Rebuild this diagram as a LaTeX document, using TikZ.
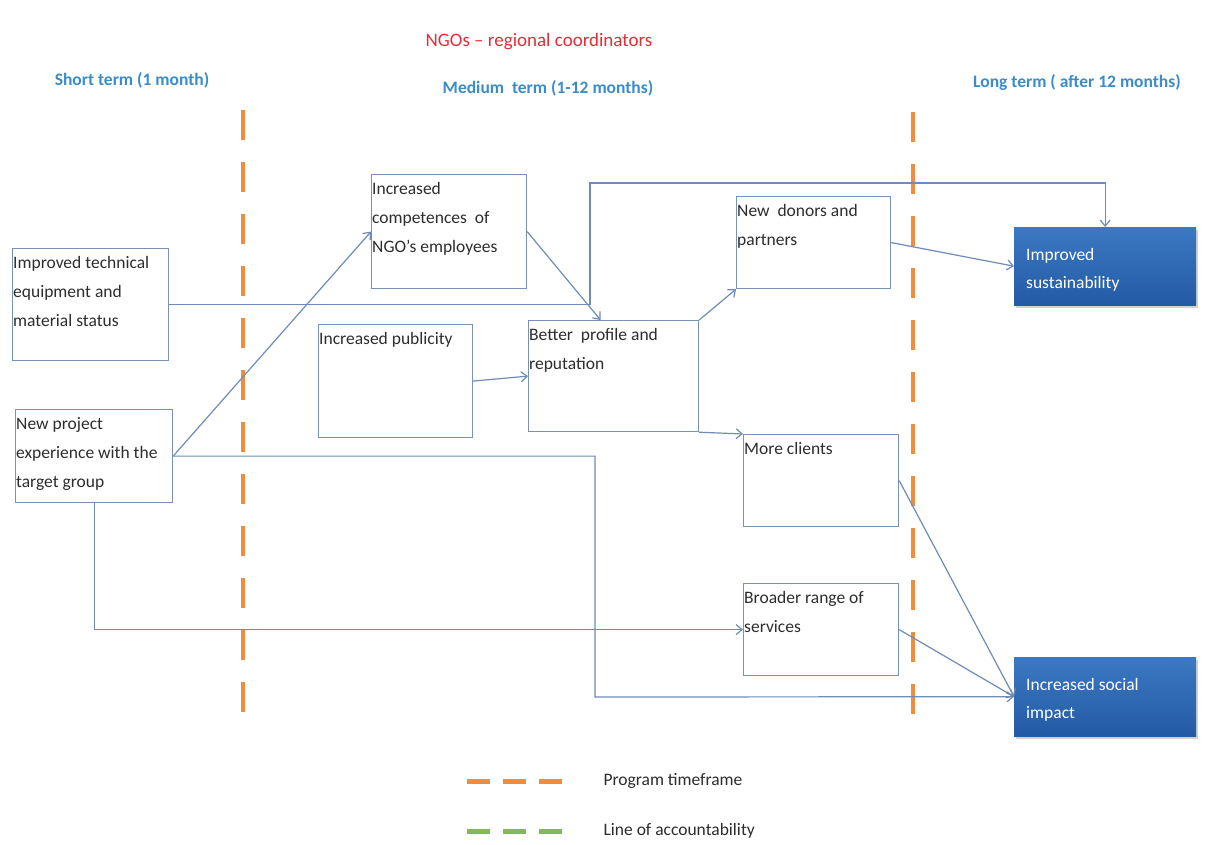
\documentclass[tikz,border=0pt]{standalone}
\usepackage{fontspec}
\setmainfont{Carlito}
\usetikzlibrary{arrows.meta,shadows}
\definecolor{conn}{RGB}{110,140,185}
\definecolor{boxline}{RGB}{120,145,185}
\definecolor{dorange}{RGB}{240,140,60}
\definecolor{dgreen}{RGB}{130,185,90}
\definecolor{hblue}{RGB}{60,140,200}
\definecolor{hred}{RGB}{230,45,55}
\definecolor{txt}{RGB}{45,45,45}
\definecolor{bluetop}{RGB}{60,120,195}
\definecolor{bluebot}{RGB}{35,90,165}
\tikzset{
  wbox/.style={draw=boxline, line width=1.2pt, fill=white, anchor=north west, inner sep=0pt},
  bbox/.style={draw=none, top color=bluetop, bottom color=bluebot, anchor=north west, inner sep=0pt,
     drop shadow={opacity=0.35, shadow xshift=2pt, shadow yshift=-3pt}},
  btxt/.style={font=\fontsize{17.5}{29}\selectfont, text=txt, align=left, inner sep=1pt, anchor=north west, yshift=-7pt},
  wtxt/.style={font=\fontsize{17.5}{28}\selectfont, text=white, align=left, inner sep=1pt, anchor=north west},
  head/.style={font=\fontsize{17.5}{20}\selectfont\bfseries, text=hblue},
  conn/.style={draw=conn, line width=1.2pt, -{Straight Barb[length=6pt,width=10pt]}},
  tline/.style={draw=dorange, line width=4pt, dash pattern=on 30pt off 22pt},
  legtxt/.style={font=\fontsize{17.5}{20}\selectfont, text=txt, anchor=west},
}
\begin{document}
\begin{tikzpicture}[x=1pt,y=-1pt]
\useasboundingbox[fill=white] (0,0) rectangle (1208,844);
% headings
\node[font=\fontsize{19}{22}\selectfont, text=hred] (ngo) at (539,42) {NGOs -- regional coordinators};
\node[head] (short) at (132,80) {Short term (1 month)};
\node[head] (medium) at (548,88) {Medium\ \ term (1-12 months)};
\node[head] (long) at (1077,82) {Long term ( after 12 months)};
% timeframe lines
\coordinate (d1a) at (243,110); \coordinate (d1b) at (243,712);
\coordinate (d2a) at (913,112); \coordinate (d2b) at (913,718);
\draw[tline] (d1a) -- (d1b);
\draw[tline] (d2a) -- (d2b);
% boxes
\node[wbox, minimum width=156pt, minimum height=112pt,
  label={[btxt]north west:Improved technical\\equipment and\\material status}] (tech) at (12,248) {};
\node[wbox, minimum width=157pt, minimum height=93pt,
  label={[btxt]north west:New project\\experience with the\\target group}] (proj) at (15,409) {};
\node[wbox, minimum width=155pt, minimum height=114pt,
  label={[btxt]north west:Increased\\competences\ \ of\\NGO’s employees}] (comp) at (371,174) {};
\node[wbox, minimum width=154pt, minimum height=113pt,
  label={[btxt]north west:Increased publicity}] (pub) at (318,324) {};
\node[wbox, minimum width=170pt, minimum height=111pt,
  label={[btxt]north west:Better\ \ profile and\\reputation}] (better) at (528,320) {};
\node[wbox, minimum width=154pt, minimum height=92pt,
  label={[btxt]north west:New\ \ donors and\\partners}] (donors) at (736,196) {};
\node[wbox, minimum width=155pt, minimum height=92pt,
  label={[btxt]north west:More clients}] (clients) at (743,434) {};
\node[wbox, minimum width=155pt, minimum height=92pt,
  label={[btxt]north west:Broader range of\\services}] (broad) at (743,583) {};
\node[bbox, minimum width=182pt, minimum height=78pt,
  label={[wtxt,xshift=11pt,yshift=-20pt]north west:Improved\\sustainability}] (sust) at (1014,227) {};
\node[bbox, minimum width=182pt, minimum height=79pt,
  label={[wtxt,xshift=11pt,yshift=-20pt]north west:Increased social\\impact}] (soc) at (1014,657) {};
% connectors
\coordinate (t1) at (590,183);
\coordinate (p1) at (595,697);
\draw[conn] (tech.east) -| (t1) -| (sust.north);
\draw[conn] (comp.east) -- ([xshift=-13pt]better.north);
\draw[conn] (proj.east) -- (comp.west);
\draw[conn] (pub.east) -- (better.west);
\draw[conn] (better.north east) -- (donors.south west);
\draw[conn] (better.south east) -- (clients.north west);
\draw[conn] (donors.east) -- (sust.west);
\draw[conn] (clients.east) -- (soc.west);
\draw[conn] (broad.east) -- (soc.west);
\draw[conn] (proj.east) -| (p1) -- (soc.west);
\draw[conn] (proj.south) |- (broad.west);
% legend
\coordinate (lo1) at (467,781); \coordinate (lo2) at (563,781);
\coordinate (lg1) at (467,831); \coordinate (lg2) at (563,831);
\draw[draw=dorange, line width=5pt, dash pattern=on 23pt off 13pt] (lo1) -- (lo2);
\draw[draw=dgreen, line width=5pt, dash pattern=on 23pt off 13pt] (lg1) -- (lg2);
\node[legtxt] (legA) at (600,781) {Program timeframe};
\node[legtxt] (legB) at (600,831) {Line of accountability};
\end{tikzpicture}
\end{document}
